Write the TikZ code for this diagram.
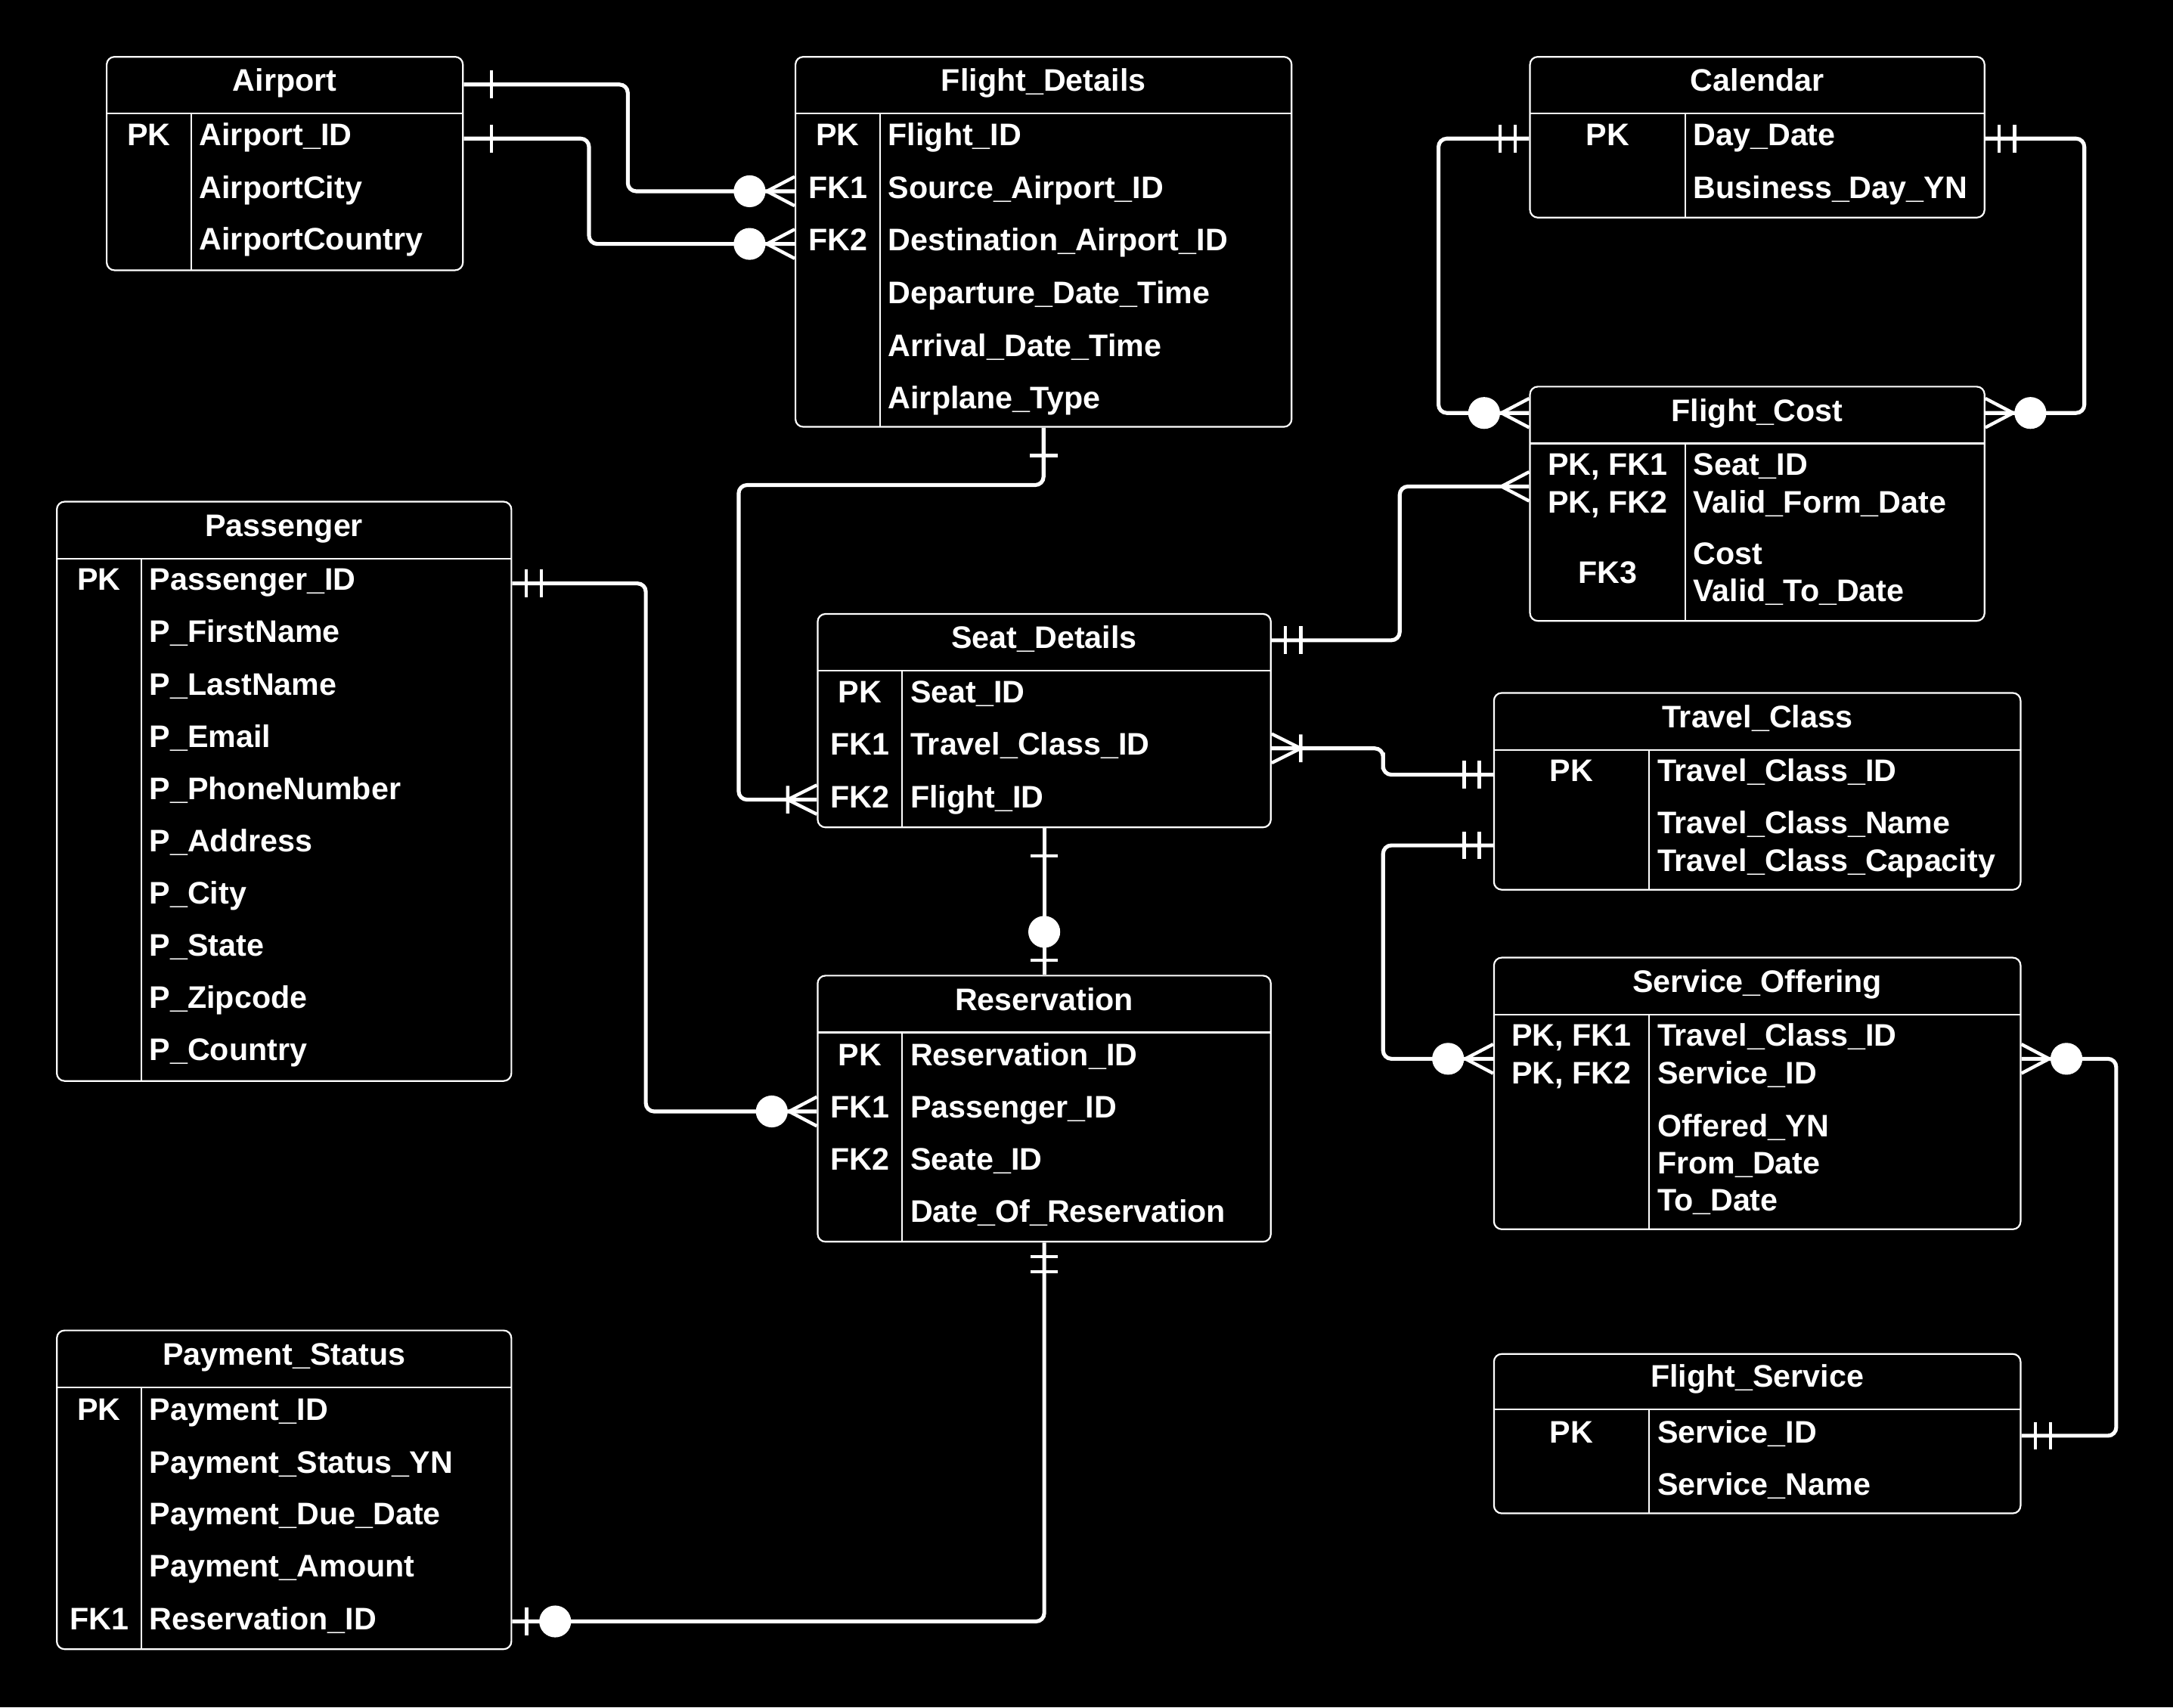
\documentclass[tikz,border=0pt]{standalone}
\usepackage{fontspec}
\setmainfont{Liberation Sans}
\usetikzlibrary{fit}
\newcommand\ertab[8]{%
  \node[tbox, fit={(#2,#3) (#4,#5)}] (#1) {};
  \draw[tline] (#2,#6) -- (#4,#6);
  \draw[tline] (#7,#6) -- (#7,#5);
  \node[ttext, anchor=base] (#1-t) at ({(#2+#4)/2},{#6-16}) {#8};
}
\newcommand\erkey[4]{\node[ttext, anchor=base] (#1) at (#2,#3) {#4};}
\newcommand\erfld[4]{\node[ttext, anchor=base west] (#1) at (#2,#3) {#4};}
\begin{document}
\begin{tikzpicture}[x=0.5pt,y=-0.5pt,
  tbox/.style={draw=white, line width=0.6pt, rounded corners=2.8pt, inner sep=0pt},
  tline/.style={draw=white, line width=0.6pt},
  ttext/.style={text=white, inner sep=0pt, font=\fontsize{11.25}{13}\selectfont\bfseries},
  conn/.style={draw=white, line width=1.4pt, rounded corners=3pt},
  mk/.style={draw=white, line width=1.2pt},
  ermone/.pic={\draw[mk] (20,-10) -- (20,10);},
  ermand/.pic={\draw[mk] (10,-10) -- (10,10) (21,-10) -- (21,10);},
  ermany/.pic={\draw[mk] (0,-10.5) -- (20,0) -- (0,10.5);},
  erzmany/.pic={\draw[mk] (0,-10.5) -- (20,0) -- (0,10.5); \fill[white] (32.5,0) circle[radius=5.75pt];},
  eromany/.pic={\draw[mk] (0,-10.5) -- (21,0) -- (0,10.5) (21,-10) -- (21,10);},
  erzone/.pic={\draw[mk] (10.5,-10) -- (10.5,10); \fill[white] (31,0) circle[radius=5.75pt];},
]
\path[use as bounding box, fill=black] (0,0) rectangle (1568,1232);

% ---------- tables ----------
\ertab{ap}{77}{41}{334}{195}{82}{138}{Airport}
\erkey{ap-k1}{107.5}{105}{PK}
\erfld{ap-f1}{143.5}{105}{Airport\_ID}
\erfld{ap-f2}{143.5}{143}{AirportCity}
\erfld{ap-f3}{143.5}{180.5}{AirportCountry}

\ertab{fd}{574}{41}{932}{308}{82}{635}{Flight\_Details}
\erkey{fd-k1}{604.5}{105}{PK}
\erkey{fd-k2}{604.5}{143}{FK1}
\erkey{fd-k3}{604.5}{181}{FK2}
\erfld{fd-f1}{640.5}{105}{Flight\_ID}
\erfld{fd-f2}{640.5}{143}{Source\_Airport\_ID}
\erfld{fd-f3}{640.5}{181}{Destination\_Airport\_ID}
\erfld{fd-f4}{640.5}{219}{Departure\_Date\_Time}
\erfld{fd-f5}{640.5}{257}{Arrival\_Date\_Time}
\erfld{fd-f6}{640.5}{295}{Airplane\_Type}

\ertab{cal}{1104}{41}{1432}{157}{82}{1216}{Calendar}
\erkey{cal-k1}{1160}{105}{PK}
\erfld{cal-f1}{1221.5}{105}{Day\_Date}
\erfld{cal-f2}{1221.5}{143}{Business\_Day\_YN}

\ertab{fc}{1104}{279}{1432}{448}{320}{1216}{Flight\_Cost}
\erkey{fc-k1}{1160}{343}{PK, FK1}
\erkey{fc-k2}{1160}{370}{PK, FK2}
\erkey{fc-k3}{1160}{421}{FK3}
\erfld{fc-f1}{1221.5}{343}{Seat\_ID}
\erfld{fc-f2}{1221.5}{370}{Valid\_Form\_Date}
\erfld{fc-f3}{1221.5}{407}{Cost}
\erfld{fc-f4}{1221.5}{434}{Valid\_To\_Date}

\ertab{pa}{41}{362}{369}{780}{403}{102}{Passenger}
\erkey{pa-k1}{71.5}{426}{PK}
\erfld{pa-f1}{107.5}{426}{Passenger\_ID}
\erfld{pa-f2}{107.5}{463.7}{P\_FirstName}
\erfld{pa-f3}{107.5}{501.4}{P\_LastName}
\erfld{pa-f4}{107.5}{539.1}{P\_Email}
\erfld{pa-f5}{107.5}{576.8}{P\_PhoneNumber}
\erfld{pa-f6}{107.5}{614.5}{P\_Address}
\erfld{pa-f7}{107.5}{652.2}{P\_City}
\erfld{pa-f8}{107.5}{689.9}{P\_State}
\erfld{pa-f9}{107.5}{727.6}{P\_Zipcode}
\erfld{pa-f10}{107.5}{765.3}{P\_Country}

\ertab{sd}{590}{443}{917}{597}{484}{651}{Seat\_Details}
\erkey{sd-k1}{620.5}{507}{PK}
\erkey{sd-k2}{620.5}{545}{FK1}
\erkey{sd-k3}{620.5}{583}{FK2}
\erfld{sd-f1}{656.5}{507}{Seat\_ID}
\erfld{sd-f2}{656.5}{545}{Travel\_Class\_ID}
\erfld{sd-f3}{656.5}{583}{Flight\_ID}

\ertab{tc}{1078}{500}{1458}{642}{541}{1190}{Travel\_Class}
\erkey{tc-k1}{1134}{564}{PK}
\erfld{tc-f1}{1195.5}{564}{Travel\_Class\_ID}
\erfld{tc-f2}{1195.5}{601.5}{Travel\_Class\_Name}
\erfld{tc-f3}{1195.5}{629}{Travel\_Class\_Capacity}

\ertab{rs}{590}{704}{917}{896}{745}{651}{Reservation}
\erkey{rs-k1}{620.5}{769}{PK}
\erkey{rs-k2}{620.5}{806.5}{FK1}
\erkey{rs-k3}{620.5}{844}{FK2}
\erfld{rs-f1}{656.5}{769}{Reservation\_ID}
\erfld{rs-f2}{656.5}{806.5}{Passenger\_ID}
\erfld{rs-f3}{656.5}{844}{Seate\_ID}
\erfld{rs-f4}{656.5}{882}{Date\_Of\_Reservation}

\ertab{so}{1078}{691}{1458}{887}{732}{1190}{Service\_Offering}
\erkey{so-k1}{1134}{755}{PK, FK1}
\erkey{so-k2}{1134}{782}{PK, FK2}
\erfld{so-f1}{1195.5}{755}{Travel\_Class\_ID}
\erfld{so-f2}{1195.5}{782}{Service\_ID}
\erfld{so-f3}{1195.5}{820}{Offered\_YN}
\erfld{so-f4}{1195.5}{847}{From\_Date}
\erfld{so-f5}{1195.5}{874}{To\_Date}

\ertab{ps}{41}{960}{369}{1190}{1001}{102}{Payment\_Status}
\erkey{ps-k1}{71.5}{1025}{PK}
\erkey{ps-k2}{71.5}{1176}{FK1}
\erfld{ps-f1}{107.5}{1025}{Payment\_ID}
\erfld{ps-f2}{107.5}{1063}{Payment\_Status\_YN}
\erfld{ps-f3}{107.5}{1100}{Payment\_Due\_Date}
\erfld{ps-f4}{107.5}{1138}{Payment\_Amount}
\erfld{ps-f5}{107.5}{1176}{Reservation\_ID}

\ertab{fs}{1078}{977}{1458}{1092}{1017}{1190}{Flight\_Service}
\erkey{fs-k1}{1134}{1041}{PK}
\erfld{fs-f1}{1195.5}{1041}{Service\_ID}
\erfld{fs-f2}{1195.5}{1079}{Service\_Name}

% ---------- connectors ----------
% Airport -> Flight_Details (source)
\draw[conn] (ap.east |- 0,61) -| (453,100) |- (fd.west |- 0,138);
\pic[rotate=0] at (ap.east |- 0,61) {ermone};
\pic[rotate=180] at (fd.west |- 0,138) {erzmany};
% Airport -> Flight_Details (destination)
\draw[conn] (ap.east |- 0,100) -| (425,140) |- (fd.west |- 0,176);
\pic[rotate=0] at (ap.east |- 0,100) {ermone};
\pic[rotate=180] at (fd.west |- 0,176) {erzmany};
% Flight_Details -> Seat_Details
\draw[conn] (fd.south) |- (640,350) -| (533,460) |- (sd.west |- 0,577);
\pic[rotate=-90] at (fd.south) {ermone};
\pic[rotate=180] at (sd.west |- 0,577) {eromany};
% Calendar -> Flight_Cost (left)
\draw[conn] (cal.west |- 0,100) -| (1038,200) |- (fc.west |- 0,298);
\pic[rotate=180] at (cal.west |- 0,100) {ermand};
\pic[rotate=180] at (fc.west |- 0,298) {erzmany};
% Calendar -> Flight_Cost (right)
\draw[conn] (cal.east |- 0,100) -| (1504,200) |- (fc.east |- 0,298);
\pic[rotate=0] at (cal.east |- 0,100) {ermand};
\pic[rotate=0] at (fc.east |- 0,298) {erzmany};
% Seat_Details -> Flight_Cost
\draw[conn] (sd.east |- 0,462) -| (1010,400) |- (fc.west |- 0,351);
\pic[rotate=0] at (sd.east |- 0,462) {ermand};
\pic[rotate=180] at (fc.west |- 0,351) {ermany};
% Seat_Details -> Travel_Class
\draw[conn] (sd.east |- 0,540) -| (998,549) |- (tc.west |- 0,559);
\pic[rotate=0] at (sd.east |- 0,540) {eromany};
\pic[rotate=180] at (tc.west |- 0,559) {ermand};
% Travel_Class -> Service_Offering
\draw[conn] (tc.west |- 0,610) -| (998,690) |- (so.west |- 0,764);
\pic[rotate=180] at (tc.west |- 0,610) {ermand};
\pic[rotate=180] at (so.west |- 0,764) {erzmany};
% Service_Offering -> Flight_Service
\draw[conn] (so.east |- 0,764) -| (1527,900) |- (fs.east |- 0,1036);
\pic[rotate=0] at (so.east |- 0,764) {erzmany};
\pic[rotate=0] at (fs.east |- 0,1036) {ermand};
% Seat_Details -> Reservation
\draw[conn] (sd.south) -- (rs.north);
\pic[rotate=-90] at (sd.south) {ermone};
\pic[rotate=90] at (rs.north) {erzone};
% Passenger -> Reservation
\draw[conn] (pa.east |- 0,421) -| (466,600) |- (rs.west |- 0,802);
\pic[rotate=0] at (pa.east |- 0,421) {ermand};
\pic[rotate=180] at (rs.west |- 0,802) {erzmany};
% Reservation -> Payment_Status
\draw[conn] (rs.south) |- (ps.east |- 0,1170);
\pic[rotate=-90] at (rs.south) {ermand};
\pic[rotate=0] at (ps.east |- 0,1170) {erzone};
\end{tikzpicture}
\end{document}
